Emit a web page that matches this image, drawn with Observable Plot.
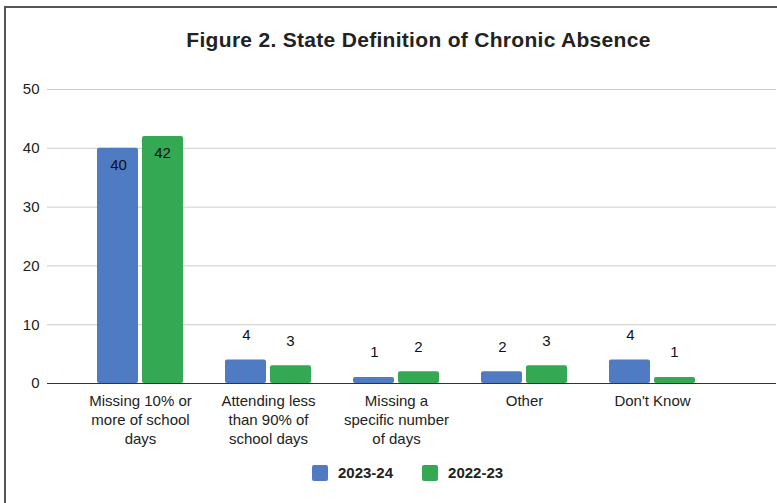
<!DOCTYPE html>
<html>
<head>
<meta charset="utf-8">
<script src="https://cdn.jsdelivr.net/npm/d3@7"></script>
<script src="https://cdn.jsdelivr.net/npm/@observablehq/plot@0.6"></script>
<style>
  body { margin: 0; background: #fff; font-family: "Liberation Sans", Arial, sans-serif; position: relative; width: 777px; height: 503px; overflow: hidden; }
  #frame { position: absolute; top: 6px; left: 4px; right: -10px; bottom: -10px; border-top: 2px solid #555; border-left: 2px solid #555; pointer-events: none; }
  #title { height: 69px; line-height: 80px; text-align: center; font-weight: bold; font-size: 21px; letter-spacing: 0.3px; color: #222; padding-left: 60px; box-sizing: border-box; white-space: nowrap; }
  #chart svg { display: block; }
  #legend { position: absolute; top: 464px; left: 312px; display: flex; align-items: center; font-weight: bold; font-size: 15px; color: #222; }
  .item { display: flex; align-items: center; margin-right: 29px; }
  .sw { width: 16px; height: 16px; border-radius: 2px; margin-right: 10px; }
</style>
</head>
<body>
<div id="frame"></div>
<div id="title">Figure 2. State Definition of Chronic Absence</div>
<div id="chart"></div>
<div id="legend"></div>
<script>
const categories = ["Missing 10% or more of school days", "Attending less than 90% of school days", "Missing a specific number of days", "Other", "Don't Know"];
const categoryLabels = ["Missing 10% or\nmore of school\ndays", "Attending less\nthan 90% of\nschool days", "Missing a\nspecific number\nof days", "Other", "Don't Know"];
const series = ["2023-24", "2022-23"];
const values2023_24 = [40, 4, 1, 2, 4];
const values2022_23 = [42, 3, 2, 3, 1];
const yTicks = [0, 10, 20, 30, 40, 50];
const colors = ["#4f7bc3", "#34a853"];

const data = [];
categories.forEach((c, i) => {
  data.push({category: c, series: series[0], value: values2023_24[i]});
  data.push({category: c, series: series[1], value: values2022_23[i]});
});
const s0 = data.filter(d => d.series === series[0]);
const s1 = data.filter(d => d.series === series[1]);
const font = "Liberation Sans, Arial, sans-serif";

const chart = Plot.plot({
  width: 777,
  height: 384,
  marginLeft: 47,
  marginRight: 1,
  marginTop: 20,
  marginBottom: 70,
  style: {fontFamily: font, fontSize: "15px", color: "#222", background: "transparent"},
  x: {domain: categories, range: [75, 717], padding: 0, axis: null},
  y: {domain: [0, 50], ticks: yTicks, label: null},
  color: {domain: series, range: colors},
  marks: [
    Plot.gridY(yTicks, {stroke: "#cccccc", strokeOpacity: 1}),
    Plot.axisY(yTicks, {tickSize: 0, tickPadding: 8, fontSize: 15, label: null, fill: "#222"}),
    Plot.barY(s0, {x: "category", y: "value", fill: "series", insetLeft: 21, insetRight: 66, rx: 2}),
    Plot.barY(s1, {x: "category", y: "value", fill: "series", insetLeft: 66, insetRight: 21, rx: 2}),
    Plot.ruleY([0], {stroke: "#333", strokeWidth: 1.2}),
    Plot.text(s0.filter(d => d.value >= 20), {x: "category", y: "value", text: d => String(d.value), dx: -22, dy: 17, fill: "#111", fontSize: 15}),
    Plot.text(s1.filter(d => d.value >= 20), {x: "category", y: "value", text: d => String(d.value), dx: 22, dy: 17, fill: "#111", fontSize: 15}),
    Plot.text(s0.filter(d => d.value < 20), {x: "category", y: "value", text: d => String(d.value), dx: -22, dy: -25, fill: "#111", fontSize: 15}),
    Plot.text(s1.filter(d => d.value < 20), {x: "category", y: "value", text: d => String(d.value), dx: 22, dy: -25, fill: "#111", fontSize: 15}),
    Plot.text(categories, {x: d => d, frameAnchor: "bottom", text: (d, i) => categoryLabels[i], lineAnchor: "top", dy: 9, lineHeight: 1.27, fill: "#222", fontSize: 15})
  ]
});
document.getElementById("chart").appendChild(chart);

const legend = document.getElementById("legend");
series.forEach((s, i) => {
  const item = document.createElement("div");
  item.className = "item";
  const sw = document.createElement("div");
  sw.className = "sw";
  sw.style.background = colors[i];
  const lab = document.createElement("span");
  lab.textContent = s;
  item.appendChild(sw);
  item.appendChild(lab);
  legend.appendChild(item);
});
</script>
</body>
</html>
